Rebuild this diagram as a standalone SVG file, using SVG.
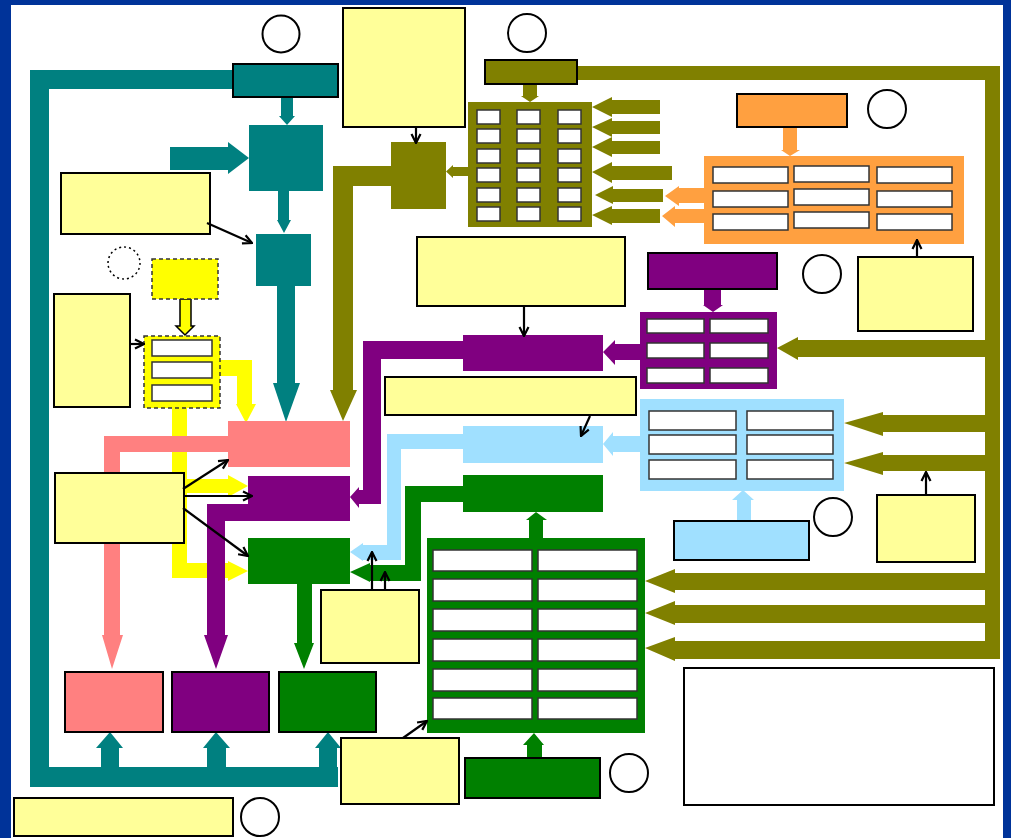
<svg xmlns="http://www.w3.org/2000/svg" width="1011" height="838" viewBox="0 0 1011 838">
<defs>
<style>
.bd{stroke:#000;stroke-width:2}
.cell{fill:#fff;stroke:#333;stroke-width:1.5}
.ly{fill:#FFFF99}
.te{fill:#008080}.ol{fill:#808000}.pu{fill:#800080}.gr{fill:#008000}
.sa{fill:#FF8080}.lb{fill:#A0E0FF}.or{fill:#FFA040}.ye{fill:#FFFF00}
.dash{stroke:#333;stroke-width:1.5;stroke-dasharray:4,3}
.circ{fill:#fff;stroke:#000;stroke-width:2}
.ln{stroke:#000;stroke-width:2.2;fill:none;marker-end:url(#ah)}
</style>
<marker id="ah" viewBox="0 0 12 12" refX="11" refY="6" markerWidth="12" markerHeight="12" markerUnits="userSpaceOnUse" orient="auto"><path d="M2,1.5 L11,6 L2,10.5" fill="none" stroke="#000" stroke-width="2.2"/></marker>
</defs>
<rect x="0" y="0" width="1011" height="838" fill="#003399"/>
<rect x="11" y="5" width="992" height="833" fill="#fff"/>

<g id="connectors">
<!-- yellow -->
<polygon class="ye" points="220,360 252,360 252,404 256,404 246,423 236,404 237,404 237,376 220,376"/>
<polygon class="ye" points="172,408 187,408 187,479 228,479 228,475 248,486 228,497 228,493 187,493 187,563 228,563 228,561 248,571 228,581 228,578 172,578"/>
<polygon class="ye" stroke="#000" stroke-width="1.5" points="180,299 191,299 191,326 194,326 185,335 176,326 180,326"/>
<!-- salmon -->
<polygon class="sa" points="228,436 104,436 104,635 102,635 112,669 123,635 120,635 120,452 228,452"/>
<!-- purple -->
<polygon class="pu" points="248,504 207,504 207,635 204,635 216,669 228,635 225,635 225,521 248,521"/>
<polygon class="pu" points="463,341 363,341 363,490 359,490 359,487 350,497 359,508 359,504 381,504 381,359 463,359"/>
<polygon class="pu" points="603,352 615,340 615,344 640,344 640,360 615,360 615,365"/>
<polygon class="pu" points="704,289 721,289 721,305 723,305 713,312 703,305 704,305"/>
<!-- teal -->
<polygon class="te" points="233,70 30,70 30,787 338,787 338,767 49,767 49,89 233,89"/>
<polygon class="te" points="281,97 293,97 293,116 295,116 287,125 279,116 281,116"/>
<polygon class="te" points="170,147 228,147 228,142 249,158 228,174 228,170 170,170"/>
<polygon class="te" points="278,191 289,191 289,220 291,220 284,233 277,220 278,220"/>
<polygon class="te" points="277,286 295,286 295,383 300,383 286,422 273,383 277,383"/>
<polygon class="te" points="101,767 119,767 119,748 123,748 110,732 96,748 101,748"/>
<polygon class="te" points="207,767 226,767 226,748 230,748 216,732 203,748 207,748"/>
<polygon class="te" points="319,767 337,767 337,748 341,748 328,732 315,748 319,748"/>
<!-- olive -->
<polygon class="ol" points="577,66 1000,66 1000,659 985,659 985,80 577,80"/>
<polygon class="ol" points="523,84 537,84 537,96 539,96 530,102 521,96 523,96"/>
<polygon class="ol" points="592,107 612,97 612,100 660,100 660,114 612,114 612,117"/>
<polygon class="ol" points="592,127 612,118 612,121 660,121 660,134 612,134 612,137"/>
<polygon class="ol" points="592,147 612,137 612,141 660,141 660,154 612,154 612,157"/>
<polygon class="ol" points="592,172 612,162 612,166 672,166 672,180 612,180 612,183"/>
<polygon class="ol" points="595,195 613,186 613,189 663,189 663,202 613,202 613,204"/>
<polygon class="ol" points="592,215 612,206 612,209 660,209 660,223 612,223 612,225"/>
<polygon class="ol" points="468,167 453,167 453,165 446,171.5 453,178 453,176 468,176"/>
<polygon class="ol" points="391,166 333,166 333,390 330,390 343,421 357,390 353,390 353,186 391,186"/>
<polygon class="ol" points="777,348 798,337 798,340 986,340 986,357 798,357 798,360"/>
<polygon class="ol" points="844,423 883,412 883,415 986,415 986,432 883,432 883,436"/>
<polygon class="ol" points="844,463 883,452 883,455 986,455 986,471 883,471 883,475"/>
<polygon class="ol" points="645,581 675,569 675,573 986,573 986,590 675,590 675,593"/>
<polygon class="ol" points="645,613 675,601 675,605 986,605 986,623 675,623 675,625"/>
<polygon class="ol" points="645,648 675,637 675,641 1000,641 1000,659 675,659 675,661"/>
<!-- orange -->
<polygon class="or" points="783,127 797,127 797,150 800,150 790,156 781,150 783,150"/>
<polygon class="or" points="665,196 679,186 679,188 704,188 704,203 679,203 679,206"/>
<polygon class="or" points="662,216 675,206 675,209 704,209 704,223 675,223 675,227"/>
<!-- light blue -->
<polygon class="lb" points="603,444 613,432 613,436 640,436 640,452 613,452 613,456"/>
<polygon class="lb" points="463,434 387,434 387,545 363,545 363,543 350,552 363,561 363,560 401,560 401,449 463,449"/>
<polygon class="lb" points="737,521 751,521 751,500 754,500 743,490 732,500 737,500"/>
<!-- green -->
<polygon class="gr" points="529,538 543,538 543,520 547,520 536,512 526,520 529,520"/>
<polygon class="gr" points="527,758 542,758 542,745 544,745 534,733 523,745 527,745"/>
<polygon class="gr" points="463,486 405,486 405,565 370,565 370,563 350,572 370,582 370,581 421,581 421,502 463,502"/>
<polygon class="gr" points="297,584 312,584 312,643 314,643 304,669 294,643 297,643"/>
</g>

<g id="teal-top"><rect class="te bd" x="233" y="64" width="105" height="33"/></g>
<g id="teal-sq1"><rect class="te" x="249" y="125" width="74" height="66"/></g>
<g id="teal-sq2"><rect class="te" x="256" y="234" width="55" height="52"/></g>

<g id="ly1"><rect class="ly bd" x="61" y="173" width="149" height="61"/></g>
<g id="ly2"><rect class="ly bd" x="54" y="294" width="76" height="113"/></g>
<g id="ly3"><rect class="ly bd" x="55" y="473" width="129" height="70"/></g>
<g id="ly4"><rect class="ly bd" x="343" y="8" width="122" height="119"/></g>
<g id="ly5"><rect class="ly bd" x="417" y="237" width="208" height="69"/></g>
<g id="ly6"><rect class="ly bd" x="385" y="377" width="251" height="38"/></g>
<g id="ly7"><rect class="ly bd" x="321" y="590" width="98" height="73"/></g>
<g id="ly8"><rect class="ly bd" x="341" y="738" width="118" height="66"/></g>
<g id="ly9"><rect class="ly bd" x="858" y="257" width="115" height="74"/></g>
<g id="ly10"><rect class="ly bd" x="877" y="495" width="98" height="67"/></g>
<g id="ly11"><rect class="ly bd" x="14" y="798" width="219" height="38"/></g>

<g id="yellow-top"><rect class="ye dash" x="152" y="259" width="66" height="40"/></g>
<g id="yellow-grid">
<rect class="ye dash" x="144" y="336" width="76" height="72"/>
<rect class="cell" x="152" y="340" width="60" height="16"/>
<rect class="cell" x="152" y="362" width="60" height="16"/>
<rect class="cell" x="152" y="385" width="60" height="16"/>
</g>

<g id="salmon-mid"><rect class="sa" x="228" y="421" width="122" height="46"/></g>
<g id="purple-mid"><rect class="pu" x="248" y="476" width="102" height="45"/></g>
<g id="green-mid"><rect class="gr" x="248" y="538" width="102" height="46"/></g>
<g id="salmon-bot"><rect class="sa bd" x="65" y="672" width="98" height="60"/></g>
<g id="purple-bot"><rect class="pu bd" x="172" y="672" width="97" height="60"/></g>
<g id="green-bot"><rect class="gr bd" x="279" y="672" width="97" height="60"/></g>

<g id="olive-top"><rect class="ol bd" x="485" y="60" width="92" height="24"/></g>
<g id="olive-grid">
<rect class="ol" x="468" y="102" width="124" height="125"/>
<rect class="cell" x="477" y="110" width="23" height="14"/><rect class="cell" x="517" y="110" width="23" height="14"/><rect class="cell" x="558" y="110" width="23" height="14"/>
<rect class="cell" x="477" y="129" width="23" height="14"/><rect class="cell" x="517" y="129" width="23" height="14"/><rect class="cell" x="558" y="129" width="23" height="14"/>
<rect class="cell" x="477" y="149" width="23" height="14"/><rect class="cell" x="517" y="149" width="23" height="14"/><rect class="cell" x="558" y="149" width="23" height="14"/>
<rect class="cell" x="477" y="168" width="23" height="14"/><rect class="cell" x="517" y="168" width="23" height="14"/><rect class="cell" x="558" y="168" width="23" height="14"/>
<rect class="cell" x="477" y="188" width="23" height="14"/><rect class="cell" x="517" y="188" width="23" height="14"/><rect class="cell" x="558" y="188" width="23" height="14"/>
<rect class="cell" x="477" y="207" width="23" height="14"/><rect class="cell" x="517" y="207" width="23" height="14"/><rect class="cell" x="558" y="207" width="23" height="14"/>
</g>
<g id="olive-small"><rect class="ol" x="391" y="142" width="55" height="67"/></g>

<g id="orange-top"><rect class="or bd" x="737" y="94" width="110" height="33"/></g>
<g id="orange-grid">
<rect class="or" x="704" y="156" width="260" height="88"/>
<rect class="cell" x="713" y="167" width="75" height="16"/><rect class="cell" x="794" y="166" width="75" height="16"/><rect class="cell" x="877" y="167" width="75" height="16"/>
<rect class="cell" x="713" y="191" width="75" height="16"/><rect class="cell" x="794" y="189" width="75" height="16"/><rect class="cell" x="877" y="191" width="75" height="16"/>
<rect class="cell" x="713" y="214" width="75" height="16"/><rect class="cell" x="794" y="212" width="75" height="16"/><rect class="cell" x="877" y="214" width="75" height="16"/>
</g>

<g id="purple-top"><rect class="pu bd" x="648" y="253" width="129" height="36"/></g>
<g id="purple-grid">
<rect class="pu" x="640" y="312" width="137" height="77"/>
<rect class="cell" x="647" y="319" width="57" height="14"/><rect class="cell" x="710" y="319" width="58" height="14"/>
<rect class="cell" x="647" y="343" width="57" height="15"/><rect class="cell" x="710" y="343" width="58" height="15"/>
<rect class="cell" x="647" y="368" width="57" height="15"/><rect class="cell" x="710" y="368" width="58" height="15"/>
</g>
<g id="purple-center"><rect class="pu" x="463" y="335" width="140" height="36"/></g>

<g id="lb-grid">
<rect class="lb" x="640" y="399" width="204" height="92"/>
<rect class="cell" x="649" y="411" width="87" height="19"/><rect class="cell" x="747" y="411" width="86" height="19"/>
<rect class="cell" x="649" y="435" width="87" height="19"/><rect class="cell" x="747" y="435" width="86" height="19"/>
<rect class="cell" x="649" y="460" width="87" height="19"/><rect class="cell" x="747" y="460" width="86" height="19"/>
</g>
<g id="lb-center"><rect class="lb" x="463" y="426" width="140" height="37"/></g>
<g id="lb-bot"><rect class="lb bd" x="674" y="521" width="135" height="39"/></g>

<g id="green-center"><rect class="gr" x="463" y="475" width="140" height="37"/></g>
<g id="green-grid">
<rect class="gr" x="427" y="538" width="218" height="195"/>
<rect class="cell" x="433" y="550" width="99" height="21"/><rect class="cell" x="538" y="550" width="99" height="21"/>
<rect class="cell" x="433" y="579" width="99" height="22"/><rect class="cell" x="538" y="579" width="99" height="22"/>
<rect class="cell" x="433" y="609" width="99" height="22"/><rect class="cell" x="538" y="609" width="99" height="22"/>
<rect class="cell" x="433" y="639" width="99" height="22"/><rect class="cell" x="538" y="639" width="99" height="22"/>
<rect class="cell" x="433" y="669" width="99" height="22"/><rect class="cell" x="538" y="669" width="99" height="22"/>
<rect class="cell" x="433" y="698" width="99" height="21"/><rect class="cell" x="538" y="698" width="99" height="21"/>
</g>
<g id="green-bot2"><rect class="gr bd" x="465" y="758" width="135" height="40"/></g>

<g id="white-box"><rect fill="#fff" class="bd" x="684" y="668" width="310" height="137"/></g>

<g id="circles">
<circle class="circ" cx="281" cy="34" r="18.5"/>
<circle class="circ" cx="527" cy="33" r="19"/>
<circle class="circ" cx="887" cy="109" r="19"/>
<circle class="circ" cx="822" cy="274" r="19"/>
<circle class="circ" cx="833" cy="517" r="19"/>
<circle class="circ" cx="629" cy="773" r="19"/>
<circle class="circ" cx="260" cy="817" r="19"/>
<circle fill="#fff" stroke="#000" stroke-width="1.5" stroke-dasharray="2,3" cx="124" cy="263" r="16"/>
</g>

<g id="pointer-arrows">
<line class="ln" x1="207" y1="223" x2="252" y2="243"/>
<line class="ln" x1="416" y1="127" x2="416" y2="143"/>
<line class="ln" x1="130" y1="344" x2="144" y2="344"/>
<line class="ln" x1="183" y1="489" x2="228" y2="460"/>
<line class="ln" x1="183" y1="496" x2="252" y2="496"/>
<line class="ln" x1="183" y1="508" x2="248" y2="556"/>
<line class="ln" x1="524" y1="306" x2="524" y2="336"/>
<line class="ln" x1="590" y1="416" x2="581" y2="436"/>
<line class="ln" x1="372" y1="590" x2="372" y2="552"/>
<line class="ln" x1="385" y1="590" x2="385" y2="572"/>
<line class="ln" x1="403" y1="738" x2="427" y2="721"/>
<line class="ln" x1="917" y1="257" x2="917" y2="240"/>
<line class="ln" x1="926" y1="495" x2="926" y2="472"/>
</g>
</svg>
